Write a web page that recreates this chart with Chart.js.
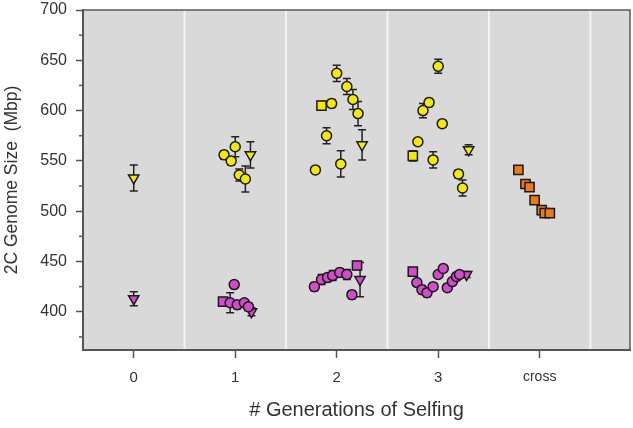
<!DOCTYPE html>
<html>
<head>
<meta charset="utf-8">
<script src="https://cdn.jsdelivr.net/npm/chart.js@4.4.0/dist/chart.umd.min.js"></script>
<style>
  body { margin: 0; background: #fff; }
  #wrap { width: 633px; height: 428px; }
</style>
</head>
<body>
<div id="wrap"><canvas id="canvasId"></canvas></div>
<script>
// x tick labels (generation groups)
const genLabels = ['0', '1', '2', '3', 'cross'];
const yMajorTicks = [400, 450, 500, 550, 600, 650, 700];
const yMinorTicks = [375, 425, 475, 525, 575, 625, 675];

// yellow (upper) series
const yelCircX   = [0.89, 0.96, 1.00, 1.04, 1.10, 1.79, 1.90, 1.95, 2.00, 2.04, 2.10, 2.16, 2.21, 2.80, 2.85, 2.91, 2.95, 3.00, 3.04, 3.20, 3.24];
const yelCircY   = [556, 550, 564, 536, 532, 541, 575, 607, 637, 547, 624, 611, 597, 569, 600, 608, 551, 644, 587, 537, 523];
const yelCircErr = [4, 4, 10, 6, 13, 3, 8, 4, 8, 13, 8, 10, 12, 3, 7, 4, 8, 7, 3, 4, 8];

const yelSqX   = [1.85, 2.75];
const yelSqY   = [605, 555];
const yelSqErr = [4, 5];

const yelTriX   = [0.00, 1.15, 2.25, 3.30];
const yelTriY   = [533, 556, 566, 561];
const yelTriErr = [13, 13, 15, 5];

// magenta (lower) series
const magCircX   = [0.95, 0.99, 1.02, 1.09, 1.13, 1.78, 1.85, 1.91, 1.96, 2.03, 2.10, 2.15, 2.79, 2.84, 2.89, 2.95, 3.00, 3.05, 3.09, 3.14, 3.18, 3.21];
const magCircY   = [409, 427, 407, 409, 405, 425, 432, 434, 436, 439, 437, 417, 429, 422, 419, 425, 437, 443, 424, 430, 435, 437];
const magCircErr = [10, 3, 4, 3, 4, 4, 5, 4, 5, 4, 5, 4, 3, 4, 4, 3, 3, 3, 3, 3, 3, 3];

const magSqX   = [0.88, 2.20, 2.75];
const magSqY   = [410, 446, 440];
const magSqErr = [4, 4, 3];

const magTriX   = [0.00, 1.16, 2.23, 3.28];
const magTriY   = [413, 400, 432, 437];
const magTriErr = [7, 4, 17, 3];

// orange (cross)
const crossX   = [3.79, 3.86, 3.90, 3.95, 4.02, 4.05, 4.10];
const crossY   = [541, 527, 524, 511, 501, 498, 498];
const crossErr = [3, 3, 3, 3, 3, 3, 3];

const pts = (xs, ys) => xs.map((x, i) => ({x: x, y: ys[i]}));

const makeSet = (xs, ys, errs, color, shape) => ({
    data: pts(xs, ys),
    err: errs,
    pointStyle: shape === 'tri' ? 'triangle' : shape,
    rotation: shape === 'tri' ? 180 : 0,
    pointRadius: shape === 'rect' ? 6.5 : (shape === 'tri' ? 6 : 5),
    backgroundColor: color,
    borderColor: '#1a1a1a',
    borderWidth: 1.5,
    showLine: false,
});

const panelDeco = {
    id: 'panelDeco',
    beforeDraw(chart) {
        const {ctx, chartArea: a, scales: {x}} = chart;
        ctx.save();
        ctx.fillStyle = '#d9d9d9';
        ctx.fillRect(a.left, a.top, a.right - a.left, a.bottom - a.top);
        ctx.strokeStyle = '#f4f4f4';
        ctx.lineWidth = 2;
        for (let k = 0; k < genLabels.length; k++) {
            const px = x.getPixelForValue(k + 0.5);
            ctx.beginPath();
            ctx.moveTo(px, a.top);
            ctx.lineTo(px, a.bottom);
            ctx.stroke();
        }
        ctx.restore();
    },
    beforeDatasetsDraw(chart) {
        const {ctx, scales: {x, y}} = chart;
        ctx.save();
        ctx.strokeStyle = '#222';
        ctx.lineWidth = 1.5;
        chart.data.datasets.forEach(ds => {
            ds.data.forEach((p, i) => {
                const e = ds.err[i];
                const px = x.getPixelForValue(p.x);
                const y1 = y.getPixelForValue(p.y + e);
                const y2 = y.getPixelForValue(p.y - e);
                ctx.beginPath();
                ctx.moveTo(px, y1); ctx.lineTo(px, y2);
                ctx.moveTo(px - 4, y1); ctx.lineTo(px + 4, y1);
                ctx.moveTo(px - 4, y2); ctx.lineTo(px + 4, y2);
                ctx.stroke();
            });
        });
        ctx.restore();
    },
    afterDraw(chart) {
        const {ctx, chartArea: a, scales: {y}} = chart;
        ctx.save();
        ctx.strokeStyle = '#5a5a5a';
        ctx.lineWidth = 1.5;
        ctx.beginPath();
        ctx.moveTo(a.left, a.top); ctx.lineTo(a.right, a.top); ctx.lineTo(a.right, a.bottom);
        ctx.stroke();
        yMinorTicks.forEach(v => {
            const py = y.getPixelForValue(v);
            ctx.beginPath();
            ctx.moveTo(a.left - 4, py); ctx.lineTo(a.left, py);
            ctx.stroke();
        });
        ctx.restore();
    }
};

const ctx = document.querySelector('#canvasId');
const fam = 'Liberation Sans, Arial, sans-serif';

const config = {
    type: 'scatter',
    data: {
        datasets: [
            makeSet(yelCircX, yelCircY, yelCircErr, '#f5eb00', 'circle'),
            makeSet(yelSqX, yelSqY, yelSqErr, '#f5eb00', 'rect'),
            makeSet(yelTriX, yelTriY, yelTriErr, '#f5eb00', 'tri'),
            makeSet(magCircX, magCircY, magCircErr, '#d24ccc', 'circle'),
            makeSet(magSqX, magSqY, magSqErr, '#d24ccc', 'rect'),
            makeSet(magTriX, magTriY, magTriErr, '#d24ccc', 'tri'),
            makeSet(crossX, crossY, crossErr, '#f07a10', 'rect'),
        ],
    },
    options: {
        animation: false,
        responsive: true,
        maintainAspectRatio: false,
        layout: { autoPadding: false, padding: { top: 10, right: 3, left: 0, bottom: 0 } },
        scales: {
            x: {
                type: 'linear',
                position: 'bottom',
                min: -0.5,
                max: 4.89,
                afterFit: s => { s.height = 78; s.paddingLeft = 0; s.paddingRight = 0; },
                afterBuildTicks: s => { s.ticks = genLabels.map((_, i) => ({value: i})); },
                grid: { drawOnChartArea: false, drawTicks: true, tickLength: 8, color: '#555', tickWidth: 1.5 },
                border: { display: true, color: '#555', width: 2 },
                ticks: {
                    padding: 11,
                    color: '#333',
                    callback: v => genLabels[v],
                    font: c => ({ family: fam, size: (c.tick && c.tick.value === 4) ? 14 : 15 }),
                },
                title: {
                    display: true,
                    text: '# Generations of Selfing',
                    color: '#333',
                    font: { family: fam, size: 20 },
                    padding: { top: 4, bottom: 6 },
                },
            },
            y: {
                min: 362,
                max: 700,
                afterFit: s => { s.width = 83; s.paddingTop = 0; s.paddingBottom = 0; },
                afterBuildTicks: s => { s.ticks = yMajorTicks.map(v => ({value: v})); },
                grid: { drawOnChartArea: false, drawTicks: true, tickLength: 7, color: '#555', tickWidth: 1.5 },
                border: { display: true, color: '#555', width: 2 },
                ticks: {
                    padding: 9,
                    color: '#333',
                    font: { family: fam, size: 16 },
                },
                title: {
                    display: true,
                    text: '2C Genome Size  (Mbp)',
                    color: '#333',
                    font: { family: fam, size: 17.5 },
                    padding: { top: 1.5, bottom: 0 },
                },
            },
        },
        plugins: {
            legend: { display: false },
            tooltip: { enabled: false },
        },
    },
    plugins: [panelDeco],
};

const chart = new Chart(ctx, config);
</script>
</body>
</html>
